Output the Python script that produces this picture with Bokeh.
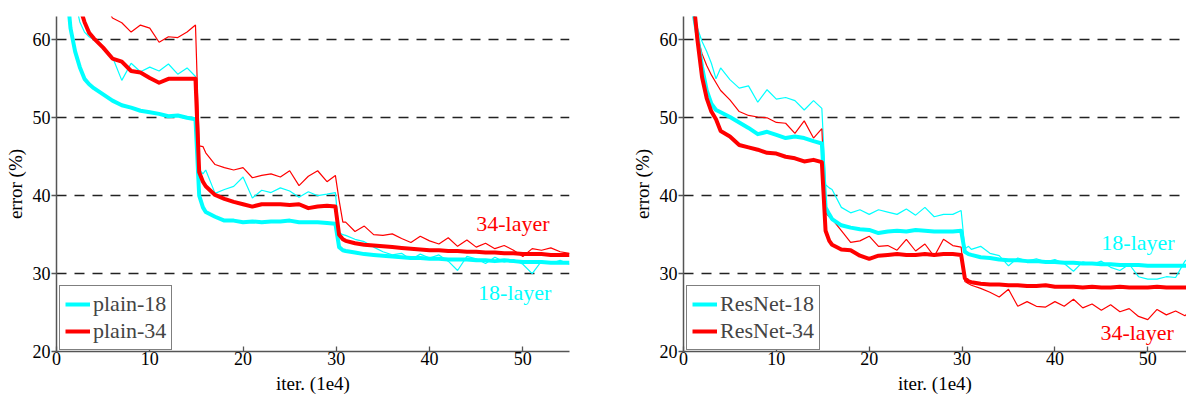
from bokeh.plotting import figure
from bokeh.models import Range1d, Label, FixedTicker
from bokeh.layouts import row
from bokeh.embed import file_html
from bokeh.resources import INLINE

# ---- data (iterations in 1e4, error in %) ----
iters = [0.5, 1, 1.5, 2, 2.5, 3, 3.5, 4, 5, 6, 7, 8, 9, 10, 11, 12, 13, 14, 14.9,
         15.3, 15.7,
         16, 17, 18, 19, 20, 21, 22, 23, 24, 25, 26, 27, 28, 29,
         29.9,
         30.3, 30.7,
         31, 32, 33, 34, 35, 36, 37, 38, 39, 40, 41, 42, 43, 44, 45, 46, 47, 48, 49,
         50, 51, 52, 53, 54, 55]

plain18_val = [80, 68, 61.5, 58.5, 56.5, 55.0, 54.3, 53.8, 53.0, 52.2, 51.6, 51.3, 50.9, 50.7, 50.5, 50.2, 50.3, 50.0, 49.8,
               40.0, 38.5,
               37.9, 37.3, 36.8, 36.8, 36.6, 36.7, 36.6, 36.7, 36.7, 36.8, 36.6, 36.6, 36.6, 36.5,
               36.4,
               33.4, 33.0,
               32.9, 32.7, 32.5, 32.4, 32.3, 32.2, 32.1, 32.0, 32.0, 31.9, 31.9, 31.8, 31.8, 31.8, 31.7, 31.7, 31.6, 31.7, 31.6,
               31.5, 31.5, 31.5, 31.4, 31.4, 31.4]
plain34_val = [85, 76, 71, 67, 64.2, 62.3, 60.9, 60.2, 59.0, 57.6, 57.2, 56.0, 55.8, 55.1, 54.5, 55.0, 55.0, 55.0, 55.0,
               43.0, 41.8,
               41.2, 40.1, 39.6, 39.2, 38.9, 38.6, 38.9, 38.9, 38.9, 38.8, 38.9, 38.4, 38.6, 38.7,
               38.6,
               35.0, 34.4,
               34.2, 33.9, 33.7, 33.6, 33.5, 33.4, 33.3, 33.2, 33.1, 33.0, 33.0, 32.9, 32.9, 32.8, 32.8, 32.7, 32.7, 32.6, 32.6,
               32.5, 32.5, 32.5, 32.4, 32.4, 32.4]
plain18_train = [85, 75, 69, 65, 62.3, 61.0, 60.4, 60.0, 59.0, 57.8, 54.8, 57.0, 55.9, 56.5, 56.0, 56.9, 55.6, 56.4, 55.3,
                 43.4, 42.8,
                 43.3, 40.3, 40.8, 41.2, 42.4, 39.7, 40.7, 40.4, 41.0, 40.6, 39.8, 40.5, 40.0, 40.2,
                 40.4,
                 35.3, 35.0,
                 34.9, 34.4, 34.1, 33.4, 32.8, 32.4, 32.6, 31.8, 32.5, 32.0, 32.4, 31.6, 30.4, 32.2, 31.9, 31.3, 32.1, 31.5, 31.8,
                 31.2, 30.0, 31.6, 31.3, 31.7, 31.2]
plain34_train = [95, 88, 82, 78, 75, 72, 70, 68, 65, 62.8, 62.2, 61.0, 61.9, 61.5, 59.7, 60.4, 60.3, 61.0, 61.9,
                 46.4, 46.3,
                 45.5, 44.0, 43.6, 43.3, 43.6, 42.3, 42.6, 42.8, 42.4, 43.2, 41.3, 42.5, 43.2, 41.8,
                 42.6,
                 39.4, 36.6,
                 36.6, 35.4, 36.1, 35.0, 34.9, 35.1, 34.5, 34.0, 34.8, 34.2, 33.8, 34.6, 33.5, 34.3, 33.4, 33.9, 33.2, 33.6, 33.0,
                 32.2, 33.2, 33.0, 33.3, 32.8, 32.6]

res18_val = [80, 64, 60.5, 56.5, 53.5, 51.8, 51.0, 50.7, 50.1, 49.4, 48.7, 47.9, 48.2, 47.8, 47.4, 47.6, 47.4, 47.0, 46.7,
             38.5, 37.6,
             37.0, 36.2, 35.9, 35.7, 35.6, 35.2, 35.4, 35.5, 35.4, 35.6, 35.5, 35.4, 35.4, 35.4,
             35.5,
             32.8, 32.5,
             32.4, 32.1, 32.0, 31.8, 31.7, 31.7, 31.6, 31.6, 31.5, 31.5, 31.4, 31.4, 31.3, 31.3, 31.2, 31.2, 31.1, 31.1, 31.1,
             31.0, 31.0, 31.0, 31.0, 31.0, 31.0]
res34_val = [85, 66, 60, 55.2, 52.5, 50.8, 49.8, 48.3, 47.6, 46.5, 46.2, 45.9, 45.5, 45.4, 45.0, 44.8, 44.4, 44.6, 44.3,
             35.5, 34.2,
             33.7, 33.1, 33.0, 32.3, 31.9, 32.3, 32.4, 32.5, 32.4, 32.4, 32.5, 32.4, 32.5, 32.5,
             32.4,
             29.4, 29.0,
             28.9, 28.7, 28.6, 28.6, 28.5, 28.5, 28.4, 28.4, 28.5, 28.3, 28.3, 28.3, 28.2, 28.3, 28.2, 28.2, 28.3, 28.2, 28.2,
             28.2, 28.3, 28.2, 28.2, 28.2, 28.2]
res18_train = [78, 64, 61.5, 59.8, 58.5, 57.0, 55.0, 56.4, 54.9, 53.8, 54.1, 52.0, 53.6, 52.4, 52.6, 52.2, 51.0, 52.2, 51.2,
               41.4, 41.0,
               40.8, 38.5, 37.8, 38.2, 37.6, 38.2, 37.9, 37.6, 38.3, 37.5, 38.5, 37.3, 37.6, 37.6,
               38.1,
               33.2, 33.5,
               33.1, 33.5, 32.6, 32.3, 31.0, 32.0, 31.6, 31.9, 31.5, 31.8, 31.3, 30.3, 31.5, 31.2, 31.6, 30.8, 30.4, 31.2, 29.6,
               29.3, 29.3, 29.6, 29.5, 31.6, 32.5]
res34_train = [80, 64, 60.5, 58.2, 56.7, 55.5, 54.5, 53.5, 52.3, 50.8, 50.3, 50.1, 50.0, 49.4, 49.3, 48.0, 49.6, 47.4, 48.6,
               37.8, 37.3,
               37.0, 35.5, 34.0, 34.2, 34.8, 33.5, 33.6, 33.0, 34.4, 32.9, 33.8, 32.2, 34.4, 33.6,
               33.4,
               29.0, 28.7,
               28.5, 28.1, 27.6, 27.0, 28.0, 25.8, 26.4, 25.8, 25.7, 26.4, 25.8, 26.7, 25.6, 26.1, 25.3, 26.0, 25.1, 25.5, 24.5,
               24.1, 25.4, 24.7, 25.2, 24.6, 25.5]

x_ticks = [0, 10, 20, 30, 40, 50]
y_ticks = [20, 30, 40, 50, 60]
grid_levels = [30, 40, 50, 60]
left_legend = ["plain-18", "plain-34"]
right_legend = ["ResNet-18", "ResNet-34"]

CYAN = "#00FFFF"
RED = "#FF0000"
FONT = "Liberation Serif"
AXIS_COLOR = "#555555"


def panel(width, mb_left, mb_right, x_end, train18, train34, val18, val34, names, notes):
    p = figure(width=width, height=396, x_range=Range1d(0, x_end), y_range=Range1d(20, 63),
               output_backend="svg", toolbar_location=None,
               min_border_left=mb_left, min_border_right=mb_right,
               min_border_top=16, min_border_bottom=44)
    p.outline_line_color = None
    p.background_fill_color = "white"
    p.border_fill_color = "white"
    p.xgrid.visible = False
    p.ygrid.ticker = FixedTicker(ticks=grid_levels)
    p.ygrid.grid_line_color = "#222222"
    p.ygrid.grid_line_dash = "10 8"
    p.ygrid.grid_line_width = 1.3

    p.xaxis.ticker = FixedTicker(ticks=x_ticks)
    p.yaxis.ticker = FixedTicker(ticks=y_ticks)
    for ax in (p.xaxis, p.yaxis):
        ax.axis_line_color = AXIS_COLOR
        ax.axis_line_width = 1.5
        ax.major_tick_line_color = AXIS_COLOR
        ax.major_tick_line_width = 1.3
        ax.minor_tick_line_color = None
        ax.major_label_text_font = FONT
        ax.major_label_text_font_size = "18px"
        ax.major_label_text_color = "black"
        ax.axis_label_text_font = FONT
        ax.axis_label_text_font_size = "19px"
        ax.axis_label_text_font_style = "normal"
        ax.axis_label_text_color = "black"
    p.xaxis.major_tick_in = 5
    p.xaxis.major_tick_out = 0
    p.xaxis.major_label_standoff = 0
    p.xaxis.axis_label_standoff = 5
    p.yaxis.major_tick_in = 0
    p.yaxis.major_tick_out = 5
    p.yaxis.major_label_standoff = 1
    p.yaxis.axis_label_standoff = 4
    p.xaxis.axis_label = "iter. (1e4)"
    p.yaxis.axis_label = "error (%)"

    p.line(iters, train18, line_color=CYAN, line_width=1.2)
    p.line(iters, train34, line_color=RED, line_width=1.2)
    p.line(iters, val18, line_color=CYAN, line_width=4, line_join="round", legend_label=names[0])
    p.line(iters, val34, line_color=RED, line_width=4, line_join="round", legend_label=names[1])

    lg = p.legend[0]
    lg.location = (3, 1)
    lg.border_line_color = "black"
    lg.border_line_width = 1.5
    lg.background_fill_color = "white"
    lg.background_fill_alpha = 1.0
    lg.label_text_font = FONT
    lg.label_text_font_size = "22px"
    lg.glyph_width = 25
    lg.glyph_height = 24
    lg.label_height = 24
    lg.label_standoff = 3
    lg.padding = 5
    lg.spacing = 1
    lg.margin = 0

    for (tx, ty, txt, col) in notes:
        p.add_layout(Label(x=tx, y=ty, text=txt, text_color=col, text_font=FONT,
                           text_font_size="22px", text_baseline="alphabetic"))
    return p


p1 = panel(628, 56, 59, 55, plain18_train, plain34_train, plain18_val, plain34_val, left_legend,
           [(45.0, 36.4, "34-layer", RED), (45.2, 27.6, "18-layer", CYAN)])
p2 = panel(558, 55, 0, 54.17, res18_train, res34_train, res18_val, res34_val, right_legend,
           [(45.0, 34.0, "18-layer", CYAN), (44.9, 22.5, "34-layer", RED)])

layout = row(p1, p2)
open("out.html", "w").write(file_html(layout, INLINE))
